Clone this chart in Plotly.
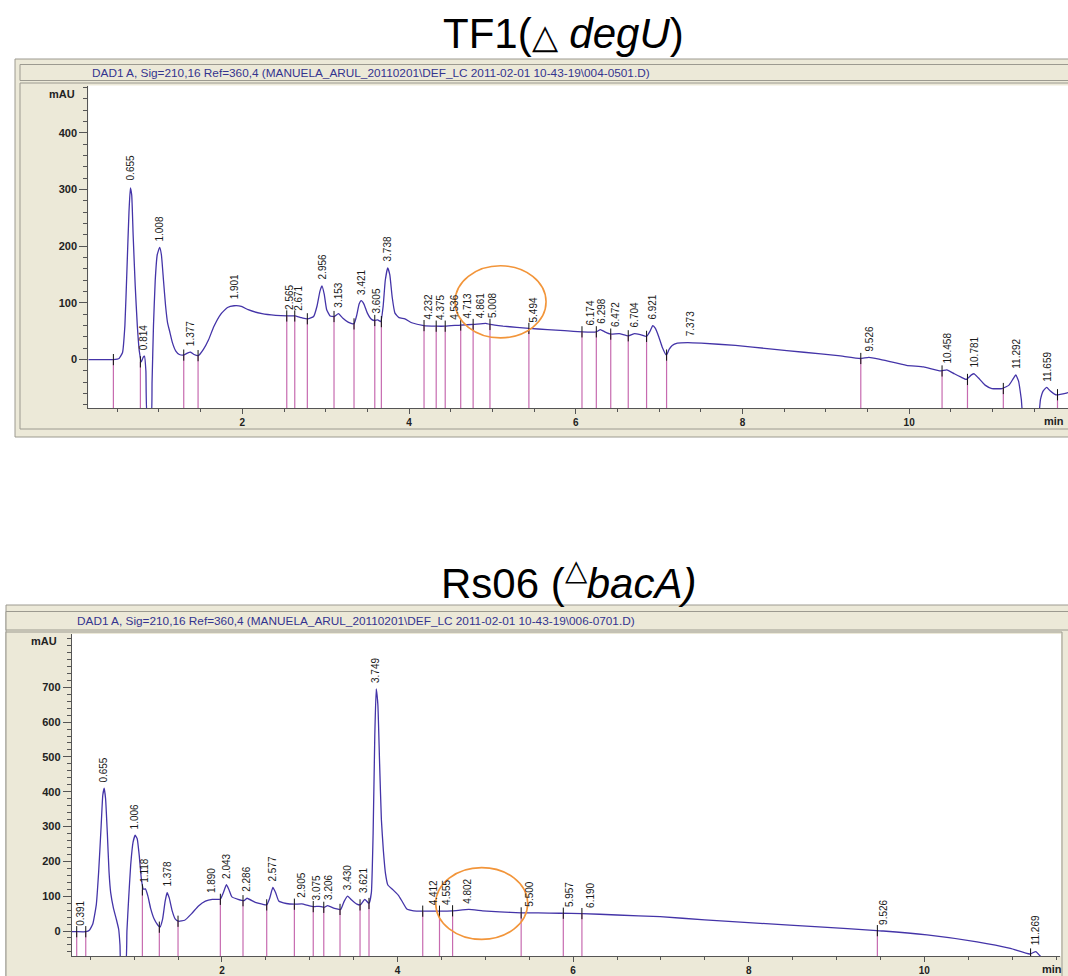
import plotly.graph_objects as go

W, H = 1068, 976
FONT = "Liberation Sans, Arial, sans-serif"

# ---------------- TOP chromatogram: TF1 (delta degU) ----------------
top_t = [0.152, 0.45, 0.50, 0.521, 0.562, 0.591, 0.616, 0.640, 0.657, 0.673, 0.690, 0.715, 0.740,
         0.764, 0.789, 0.810, 0.826, 0.843, 0.86, 0.905, 0.917, 0.934, 0.955, 0.979, 1.008, 1.029,
         1.054, 1.079, 1.103, 1.128, 1.161, 1.202, 1.244, 1.298, 1.347, 1.38, 1.421, 1.471, 1.533,
         1.595, 1.657, 1.74, 1.822, 1.901, 1.988, 2.07, 2.236, 2.40, 2.533, 2.628, 2.711, 2.785,
         2.855, 2.897, 2.93, 2.955, 2.983, 3.012, 3.054, 3.103, 3.153, 3.207, 3.269, 3.339, 3.372,
         3.401, 3.426, 3.459, 3.50, 3.55, 3.591, 3.624, 3.661, 3.69, 3.715, 3.744, 3.769, 3.798,
         3.831, 3.88, 3.95, 4.033, 4.178, 4.326, 4.434, 4.62, 4.769, 4.921, 4.971, 5.128, 5.293,
         5.438, 5.66, 5.865, 6.078, 6.247, 6.296, 6.349, 6.419, 6.522, 6.632, 6.706, 6.776, 6.85,
         6.891, 6.924, 6.956, 6.997, 7.038, 7.088, 7.12, 7.157, 7.219, 7.342, 7.506, 7.916, 8.327,
         8.737, 9.147, 9.414, 9.516, 9.639, 9.968, 10.173, 10.378, 10.452, 10.542, 10.624, 10.686,
         10.747, 10.78, 10.829, 10.911, 10.993, 11.116, 11.198, 11.247, 11.28, 11.313, 11.346,
         11.37, 11.547, 11.576, 11.609, 11.65, 11.691, 11.76, 11.888, 11.91]
top_mau = [0, 0, 1, 2, 12, 60, 160, 260, 303, 290, 220, 130, 60,
           15, -4, 4, 6, -20, -100, -100, -40, 60, 140, 185, 198, 185,
           140, 95, 65, 50, 30, 15, 9, 8, 12, 13, 9, 7, 18,
           35, 58, 80, 92, 95, 94, 88, 81, 78, 77, 77, 74, 72,
           76, 95, 120, 130, 115, 88, 77, 76, 81, 73, 66, 63, 78,
           98, 104, 98, 82, 71, 69, 70, 67, 95, 140, 162, 150, 110,
           82, 74, 72, 65, 60, 59, 59, 61, 62, 64, 62, 59, 57,
           55, 53, 51, 49, 49, 53, 49, 45, 46, 42, 46, 44, 41,
           50, 60, 55, 40, 22, 8, 18, 25, 29, 30, 29, 25, 19,
           13, 7, 2, 4, 1, -10, -13, -20, -18, -25, -31, -35,
           -27, -25, -32, -45, -51, -51, -45, -34, -27, -38, -70,
           -100, -100, -70, -55, -49, -55, -62, -59, -58]

top_event_t = [0.453, 0.777, 1.297, 1.469, 2.533, 2.629, 2.780, 3.10, 3.34, 3.589, 3.668, 4.18,
               4.326, 4.434, 4.62, 4.769, 4.971, 5.438, 6.075, 6.247, 6.42, 6.63, 6.85, 7.09,
               9.42, 10.395, 10.70, 11.13, 11.78]
top_event_mau = [0, -4, 8, 7, 77, 77, 72, 76, 63, 69, 67, 60,
                 59, 59, 61, 62, 62, 55, 49, 49, 45, 42, 41, 8,
                 2, -20, -35, -51, -62]

top_peak_labels = ["0.655", "0.814", "1.008", "1.377", "1.901", "2.565", "2.671", "2.956", "3.153",
                   "3.421", "3.605", "3.738", "4.232", "4.375", "4.536", "4.713", "4.861", "5.008",
                   "5.494", "6.174", "6.298", "6.472", "6.704", "6.921", "7.373", "9.526", "10.458",
                   "10.781", "11.292", "11.659"]
top_peak_mau = [305, 6, 198, 13, 95, 77, 75, 130, 81,
                104, 70, 162, 60, 59, 60, 62, 63, 62,
                55, 49, 53, 46, 46, 60, 30, 4, -18,
                -25, -27, -49]

# ---------------- BOTTOM chromatogram: Rs06 (delta bacA) ----------------
bot_t = [0.289, 0.34, 0.451, 0.49, 0.529, 0.569, 0.596, 0.624, 0.643, 0.659, 0.675, 0.695, 0.714,
         0.733, 0.765, 0.796, 0.824, 0.839, 0.851, 0.902, 0.918, 0.937, 0.961, 0.988, 1.012, 1.035,
         1.059, 1.082, 1.106, 1.129, 1.157, 1.188, 1.227, 1.267, 1.294, 1.325, 1.353, 1.376, 1.40,
         1.431, 1.467, 1.506, 1.576, 1.655, 1.733, 1.812, 1.89, 1.98, 2.016, 2.051, 2.078, 2.114,
         2.184, 2.251, 2.286, 2.38, 2.459, 2.51, 2.545, 2.58, 2.612, 2.647, 2.733, 2.824, 2.91,
         2.988, 3.047, 3.106, 3.165, 3.204, 3.282, 3.353, 3.392, 3.431, 3.478, 3.537, 3.576, 3.627,
         3.675, 3.702, 3.722, 3.741, 3.757, 3.776, 3.796, 3.816, 3.839, 3.863, 3.89, 3.949, 4.008,
         4.055, 4.106, 4.184, 4.29, 4.478, 4.627, 4.812, 4.969, 5.165, 5.408, 5.6, 5.85, 6.10,
         6.5, 6.99, 7.5, 8.13, 8.8, 9.46, 9.53, 10.03, 10.6, 10.98, 11.2, 11.27, 11.32, 11.36]
bot_mau = [-2, -2, -2, 2, 20, 75, 170, 300, 390, 410, 380, 280, 170,
           110, 65, 35, 5, -40, -100, -100, 0, 90, 190, 255, 275, 265,
           215, 150, 120, 121, 100, 65, 35, 18, 11, 35, 85, 110, 95,
           60, 35, 28, 31, 50, 72, 86, 91, 91, 110, 133, 120, 98,
           91, 87, 94, 82, 77, 75, 95, 125, 110, 86, 79, 77, 78,
           73, 70, 71, 68, 73, 65, 62, 85, 100, 89, 77, 75, 91,
           79, 110, 280, 560, 695, 650, 480, 320, 230, 165, 132, 118, 103,
           84, 63, 58, 57, 57, 58, 62, 58, 55, 52, 52, 51, 50,
           46, 41, 32, 22, 12, 1, 0, -11, -31, -50, -66, -59, -72, -80]

bot_event_t = [0.346, 0.449, 1.094, 1.287, 1.50, 1.982, 2.24, 2.51, 2.825, 3.04, 3.16, 3.345,
               3.573, 3.675, 4.287, 4.478, 4.627, 5.408, 5.888, 6.10, 9.465, 11.21]
bot_event_mau = [-2, -2, 118, 11, 28, 91, 87, 75, 77, 70, 68, 62,
                 75, 79, 57, 57, 58, 52, 51, 50, 1, -66]

bot_peak_labels = ["0.391", "0.655", "1.006", "1.118", "1.378", "1.890", "2.043", "2.286", "2.577",
                   "2.905", "3.075", "3.206", "3.430", "3.621", "3.749", "4.412", "4.555", "4.802",
                   "5.500", "5.957", "6.190", "9.526", "11.269"]
bot_peak_mau = [-2, 410, 275, 121, 110, 91, 133, 94, 125,
                78, 70, 73, 100, 91, 695, 57, 57, 62,
                52, 51, 50, 1, -59]

top_ytick_vals = [0, 100, 200, 300, 400]
bot_ytick_vals = [0, 100, 200, 300, 400, 500, 600, 700]

header_top = r"DAD1 A, Sig=210,16 Ref=360,4 (MANUELA_ARUL_20110201\DEF_LC 2011-02-01 10-43-19\004-0501.D)"
header_bot = r"DAD1 A, Sig=210,16 Ref=360,4 (MANUELA_ARUL_20110201\DEF_LC 2011-02-01 10-43-19\006-0701.D)"

# ---------------- styling ----------------
CURVE = "#4434a8"
PINK = "#c76bb0"
BEIGE = "#ECE9D8"
FRAME = "#9c9a90"
AXIS = "#555555"

TOP_X = [0.152, 11.906]
TOP_Y = [-85.9, 483.6]
BOT_X = [0.289, 11.545]
BOT_Y = [-71.8, 853]


def px(x):
    return x / W


def py(y):
    return 1 - y / H


fig = go.Figure()


def add_panel(t, v, ev_t, ev_v, xa, ya, ymin):
    fig.add_trace(go.Scatter(x=t, y=v, mode="lines", xaxis=xa, yaxis=ya,
                             line=dict(color=CURVE, width=1.3, shape="spline", smoothing=0.4),
                             hoverinfo="skip", showlegend=False))
    lx, ly = [], []
    for a, b in zip(ev_t, ev_v):
        lx += [a, a, None]
        ly += [ymin, b, None]
    fig.add_trace(go.Scatter(x=lx, y=ly, mode="lines", xaxis=xa, yaxis=ya,
                             line=dict(color=PINK, width=1.2), hoverinfo="skip", showlegend=False))
    fig.add_trace(go.Scatter(x=ev_t, y=ev_v, mode="markers", xaxis=xa, yaxis=ya,
                             marker=dict(symbol="line-ns", size=8, line=dict(color="#111", width=1)),
                             hoverinfo="skip", showlegend=False))


add_panel(top_t, top_mau, top_event_t, top_event_mau, "x", "y", TOP_Y[0])
add_panel(bot_t, bot_mau, bot_event_t, bot_event_mau, "x2", "y2", BOT_Y[0])

annotations = []
for lab, v in zip(top_peak_labels, top_peak_mau):
    annotations.append(dict(x=float(lab), y=v, xref="x", yref="y", text=lab, textangle=-90,
                            showarrow=False, xanchor="center", yanchor="bottom", yshift=4,
                            font=dict(family=FONT, size=10, color="#1a1a1a")))
for lab, v in zip(bot_peak_labels, bot_peak_mau):
    annotations.append(dict(x=float(lab), y=v, xref="x2", yref="y2", text=lab, textangle=-90,
                            showarrow=False, xanchor="center", yanchor="bottom", yshift=4,
                            font=dict(family=FONT, size=10, color="#1a1a1a")))

# titles
annotations.append(dict(x=px(563), y=py(33), xref="paper", yref="paper", showarrow=False,
                        xanchor="center", yanchor="middle",
                        text="TF1(<span style='font-size:34px'>△</span> <i>degU</i>)",
                        font=dict(family=FONT, size=42, color="#000")))
annotations.append(dict(x=px(568), y=py(580), xref="paper", yref="paper", showarrow=False,
                        xanchor="center", yanchor="middle",
                        text="Rs06 (<sup>△</sup><i>bacA)</i>",
                        font=dict(family=FONT, size=42, color="#000")))
# headers
annotations.append(dict(x=px(90), y=py(72.5), xref="paper", yref="paper", showarrow=False,
                        xanchor="left", yanchor="middle", text=header_top,
                        font=dict(family=FONT, size=11.8, color="#34348f")))
annotations.append(dict(x=px(75), y=py(620.5), xref="paper", yref="paper", showarrow=False,
                        xanchor="left", yanchor="middle", text=header_bot,
                        font=dict(family=FONT, size=11.8, color="#34348f")))
# axis unit labels
for (x, y, txt, anc) in [(77, 94, "mAU", "right"), (59, 641, "mAU", "right"),
                         (1066, 421, "min", "right"), (1040, 969, "min", "left")]:
    annotations.append(dict(x=px(x), y=py(y), xref="paper", yref="paper", showarrow=False,
                            xanchor=anc, yanchor="middle", text=txt,
                            font=dict(family=FONT, size=11, color="#222", weight="bold")))

shapes = []


def prect(x0, y0, x1, y1, fill, line=FRAME, lw=1):
    shapes.append(dict(type="rect", xref="paper", yref="paper", layer="below",
                       x0=px(x0), x1=px(x1), y0=py(y1), y1=py(y0),
                       fillcolor=fill, line=dict(color=line, width=lw)))


# top frame
prect(15, 59, 1070, 437, BEIGE)
prect(20, 64.5, 1070, 80.5, BEIGE)
prect(20, 83, 1070, 429, BEIGE)
prect(88.3, 85.5, 1070, 408.3, "#FFFFFF", line="rgba(0,0,0,0)", lw=0)
# bottom frame
prect(6, 605, 1070, 980, BEIGE)
prect(6, 611.5, 1070, 630, BEIGE)
prect(6, 632, 1062, 980, BEIGE)
prect(71.7, 634, 1061, 956, "#FFFFFF", line="rgba(0,0,0,0)", lw=0)

# orange highlight ellipses
shapes.append(dict(type="circle", xref="x", yref="y", x0=4.552, x1=5.644, y0=38.3, y1=165.5,
                   line=dict(color="#F2953A", width=1.6)))
shapes.append(dict(type="circle", xref="x2", yref="y2", x0=4.435, x1=5.482, y0=-24, y1=182,
                   line=dict(color="#F2953A", width=1.6)))


def xax(rng, dom, anchor):
    return dict(domain=dom, range=rng, anchor=anchor, tickmode="linear", tick0=0, dtick=2,
                ticks="outside", ticklen=5, tickcolor=AXIS, showline=True, linecolor=AXIS,
                linewidth=1, showgrid=False, zeroline=False,
                tickfont=dict(family=FONT, size=10, color="#222", weight="bold"),
                minor=dict(tick0=0, dtick=0.5, ticks="outside", ticklen=3, tickcolor=AXIS,
                           showgrid=False))


def yax(rng, dom, anchor, vals):
    return dict(domain=dom, range=rng, anchor=anchor, tickmode="array", tickvals=vals,
                ticks="outside", ticklen=8, tickcolor=AXIS, showline=True, linecolor=AXIS,
                linewidth=1, showgrid=False, zeroline=False,
                tickfont=dict(family=FONT, size=11, color="#222", weight="bold"),
                minor=dict(tick0=0, dtick=20, ticks="outside", ticklen=4, tickcolor=AXIS,
                           showgrid=False))


fig.update_layout(
    width=W, height=H, margin=dict(l=0, r=0, t=0, b=0),
    paper_bgcolor="#FFFFFF", plot_bgcolor="rgba(0,0,0,0)",
    xaxis=xax(TOP_X, [px(88.3), 1.0], "y"),
    yaxis=yax(TOP_Y, [py(408.3), py(85.5)], "x", top_ytick_vals),
    xaxis2=xax(BOT_X, [px(71.7), px(1060)], "y2"),
    yaxis2=yax(BOT_Y, [py(956), py(634)], "x2", bot_ytick_vals),
    annotations=annotations, shapes=shapes, showlegend=False,
)

fig.write_html("out.html")
